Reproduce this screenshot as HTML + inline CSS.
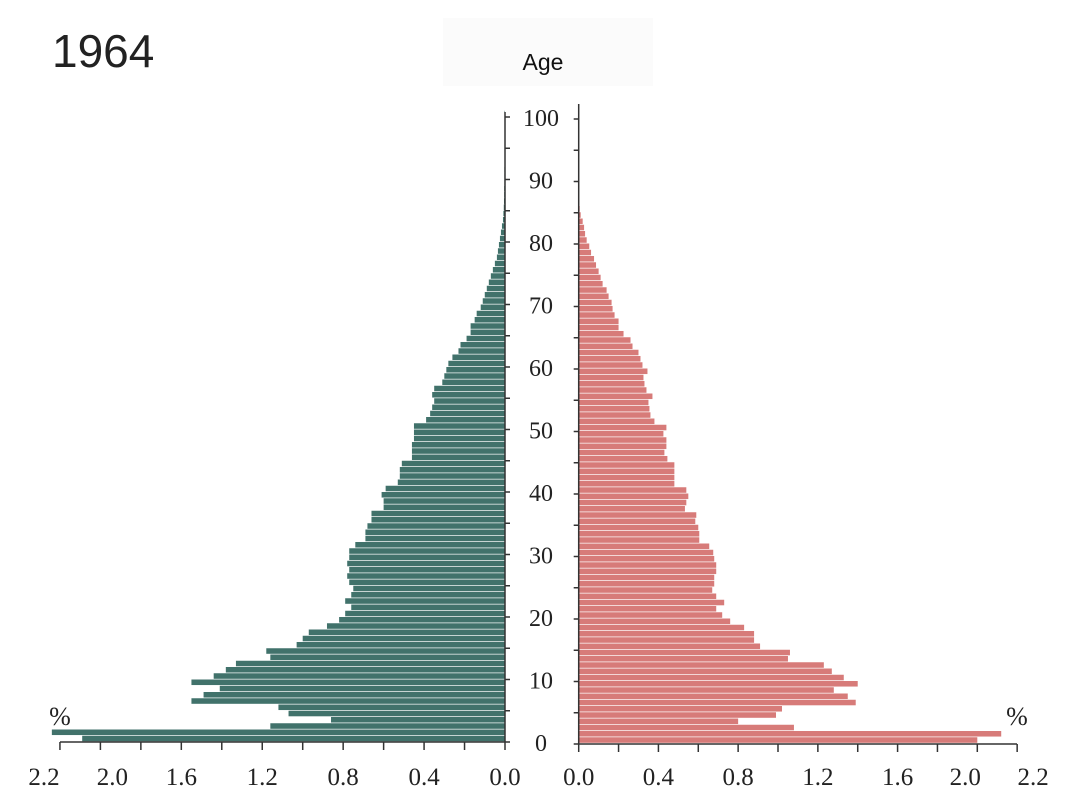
<!DOCTYPE html>
<html><head><meta charset="utf-8"><style>
body{margin:0;background:#fff;width:1075px;height:801px;overflow:hidden;font-family:"Liberation Sans",sans-serif}
</style></head><body>
<svg width="1075" height="801" xmlns="http://www.w3.org/2000/svg">
<text x="52" y="67" font-size="46" fill="#222" font-family="Liberation Sans, sans-serif">1964</text>
<rect x="443" y="18" width="210" height="68" fill="#fbfbfb"/>
<text x="543" y="70" font-size="23" text-anchor="middle" fill="#111">Age</text>
<g id="bars"></g>
<g id="axes"></g>
</svg>
<script>
const ages = Array.from({length:101},(_, i)=>i);
const maleValues = [2.09,2.24,1.16,0.86,1.07,1.12,1.55,1.49,1.41,1.55,1.44,1.38,1.33,1.16,1.18,1.03,1.00,0.97,0.88,0.82,0.79,0.76,0.79,0.76,0.75,0.77,0.78,0.77,0.78,0.77,0.77,0.74,0.69,0.69,0.68,0.66,0.66,0.60,0.60,0.61,0.59,0.53,0.52,0.52,0.51,0.46,0.46,0.46,0.45,0.45,0.45,0.39,0.37,0.36,0.35,0.36,0.35,0.31,0.30,0.29,0.28,0.26,0.23,0.22,0.19,0.17,0.17,0.15,0.14,0.12,0.11,0.10,0.09,0.08,0.07,0.06,0.05,0.04,0.035,0.03,0.025,0.02,0.015,0.01,0.008,0.006,0.005,0.004,0.004,0.003,0.003,0.003,0.002,0.002,0.002,0.002,0.002,0.002,0.002,0.002,0.002];
const femaleValues = [2.00,2.12,1.08,0.80,0.99,1.02,1.39,1.35,1.28,1.40,1.33,1.27,1.23,1.05,1.06,0.91,0.88,0.88,0.83,0.76,0.72,0.69,0.73,0.69,0.67,0.68,0.68,0.69,0.69,0.68,0.675,0.655,0.605,0.605,0.60,0.585,0.59,0.533,0.54,0.55,0.54,0.48,0.48,0.48,0.48,0.445,0.43,0.44,0.44,0.425,0.44,0.38,0.36,0.355,0.35,0.37,0.34,0.33,0.325,0.345,0.32,0.31,0.30,0.27,0.26,0.225,0.20,0.20,0.18,0.17,0.165,0.15,0.14,0.12,0.11,0.10,0.087,0.077,0.062,0.053,0.04,0.032,0.027,0.02,0.01,0.005,0.003,0.002,0.002,0.002,0.002,0.002,0.001,0.001,0.001,0.001,0.001,0.001,0.001,0.001,0.001];
const xTicks = [0,0.2,0.4,0.6,0.8,1.0,1.2,1.4,1.6,1.8,2.0,2.2];
const xTickLabels = ["0.0","","0.4","","0.8","","1.2","","1.6","","2.0","2.2"];
const ageTicks = [0,10,20,30,40,50,60,70,80,90,100];

const NS="http://www.w3.org/2000/svg";
const L0=505, Lscale=202.3, R0=578.7, Rscale=199.3, Y0=742, yStep=6.25;
const xLeft=v=>L0-v*Lscale, xRight=v=>R0+v*Rscale, yAge=a=>Y0-(a+1)*yStep;
function mk(tag,attrs,parent){const e=document.createElementNS(NS,tag);for(const k in attrs)e.setAttribute(k,attrs[k]);parent.appendChild(e);return e;}
const bars=document.getElementById('bars'), axes=document.getElementById('axes');
ages.forEach((a,i)=>{
  const m=mk('rect',{x:xLeft(maleValues[i]),y:yAge(a),width:maleValues[i]*Lscale,height:yStep-0.7,fill:'#41726b'},bars);
  
  
  const f=mk('rect',{x:R0,y:yAge(a)+1.5,width:femaleValues[i]*Rscale,height:yStep-0.7,fill:'#d77b79'},bars);
  
  
});
// vertical axes
let v1=mk('line',{x1:L0,y1:112,x2:L0,y2:Y0,stroke:'#333','stroke-width':1.5},axes);


let v2=mk('line',{x1:R0,y1:104,x2:R0,y2:Y0+2,stroke:'#333','stroke-width':1.5},axes);


for(let a=0;a<=100;a+=5){
  const y=Y0-a*yStep;
  mk('line',{x1:L0,y1:y,x2:L0+5,y2:y,stroke:'#333','stroke-width':1.5},axes);
  mk('line',{x1:R0-5,y1:y+2,x2:R0,y2:y+2,stroke:'#333','stroke-width':1.5},axes);
}
ageTicks.forEach(a=>{
  const t=mk('text',{x:541,y:Y0-a*yStep+9,'text-anchor':'middle','font-size':24,'font-family':'Liberation Serif, serif',fill:'#222'},axes);
  t.textContent=a;
  
  
});
// bottom axes
let h1=mk('line',{x1:60,y1:Y0,x2:L0,y2:Y0,stroke:'#333','stroke-width':1.5},axes);


let h2=mk('line',{x1:R0,y1:Y0+2,x2:1017,y2:Y0+2,stroke:'#333','stroke-width':1.5},axes);


xTicks.forEach((v,i)=>{
  mk('line',{x1:xLeft(v),y1:Y0,x2:xLeft(v),y2:Y0+8,stroke:'#333','stroke-width':1.5},axes);
  mk('line',{x1:xRight(v),y1:Y0+2,x2:xRight(v),y2:Y0+10,stroke:'#333','stroke-width':1.5},axes);
  if(xTickLabels[i]){
    const off = v===2.2?-16:(v===2.0?12:0);
    const t1=mk('text',{x:xLeft(v)+(v===2.2?-16:(v===2.0?12:0)),y:785,'text-anchor':'middle','font-size':25,'font-family':'Liberation Serif, serif',fill:'#222'},axes);
    t1.textContent=xTickLabels[i];
    
    
    const t2=mk('text',{x:xRight(v)+(v===2.2?16:(v===2.0?-12:0)),y:785,'text-anchor':'middle','font-size':25,'font-family':'Liberation Serif, serif',fill:'#222'},axes);
    t2.textContent=xTickLabels[i];
    
    
  }
});
let p1=mk('text',{x:60,y:725,'text-anchor':'middle','font-size':26,'font-family':'Liberation Serif, serif',fill:'#222'},axes);
p1.textContent='%';


let p2=mk('text',{x:1017,y:725,'text-anchor':'middle','font-size':26,'font-family':'Liberation Serif, serif',fill:'#222'},axes);
p2.textContent='%';


</script>
</body></html>
